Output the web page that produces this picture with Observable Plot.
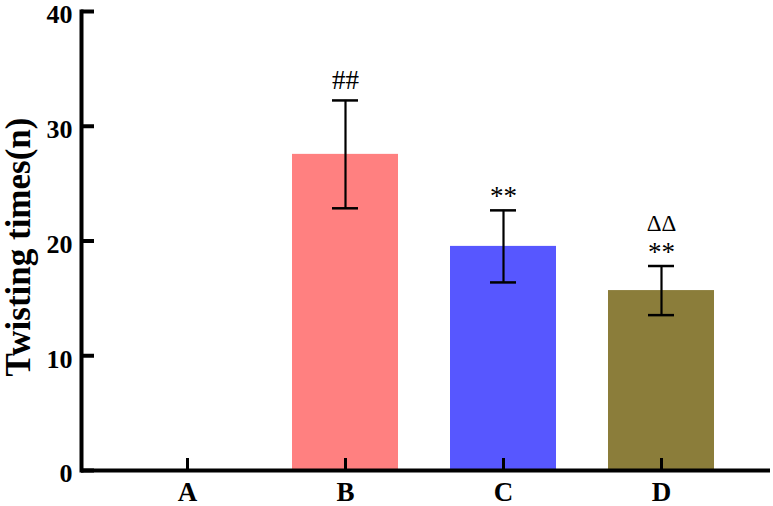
<!DOCTYPE html>
<html>
<head>
<meta charset="utf-8">
<script src="https://cdn.jsdelivr.net/npm/d3@7"></script>
<script src="https://cdn.jsdelivr.net/npm/@observablehq/plot@0.6"></script>
<style>
  html, body { margin: 0; padding: 0; background: #fff; }
  #chart svg { display: block; }
</style>
</head>
<body>
<div id="chart"></div>
<script>
// Writhing (twisting) counts per group: mean ± SD
const groups = ["A", "B", "C", "D"];
const means = [0, 27.55, 19.53, 15.68];
const sds = [null, 4.7, 3.14, 2.14];
const yTicks = [0, 10, 20, 30, 40];

// Significance marks drawn above each error bar
const sigModel = ["", "##", "", ""];
const sigDrug = ["", "", "**", "**"];
const sigDelta = ["", "", "", "ΔΔ"];

const barColors = ["#ffffff", "#ff8080", "#5757ff", "#8b7d3a"];

const rows = groups.map((g, i) => ({
  group: g, mean: means[i], sd: sds[i],
  model: sigModel[i], drug: sigDrug[i], delta: sigDelta[i]
}));
const withSd = rows.filter(d => d.sd != null);

const W = 773, H = 506;
const mL = 81, mR = 6, mT = 11, mB = 36;
const frameW = W - mL - mR, frameH = H - mT - mB;
const serif = '"Liberation Serif", "Times New Roman", Times, serif';

const chart = Plot.plot({
  width: W, height: H,
  marginLeft: mL, marginRight: mR, marginTop: mT, marginBottom: mB,
  style: { fontFamily: serif, background: "#fff", color: "#000" },
  x: { domain: groups, padding: 0.33, axis: null, label: null },
  y: { domain: [0, 40], axis: null, label: null },
  color: { domain: groups, range: barColors },
  marks: [
    Plot.barY(rows, { x: "group", y: "mean", fill: "group" }),
    // error bars
    Plot.ruleX(withSd, { x: "group", y1: d => d.mean - d.sd, y2: d => d.mean + d.sd, stroke: "#000", strokeWidth: 2.2 }),
    Plot.tickY(withSd, { x: "group", y: d => d.mean + d.sd, insetLeft: 40, insetRight: 40, stroke: "#000", strokeWidth: 2.5 }),
    Plot.tickY(withSd, { x: "group", y: d => d.mean - d.sd, insetLeft: 40, insetRight: 40, stroke: "#000", strokeWidth: 2.5 }),
    // significance labels
    Plot.text(withSd, { x: "group", y: d => d.mean + d.sd, text: "model", lineAnchor: "bottom", dy: -11, fontSize: 27 }),
    Plot.text(withSd, { x: "group", y: d => d.mean + d.sd, text: "drug", lineAnchor: "bottom", dy: -5, fontSize: 27 }),
    Plot.text(withSd, { x: "group", y: d => d.mean + d.sd, text: "delta", lineAnchor: "bottom", dy: -35, fontSize: 23 }),
    // axis lines
    Plot.frame({ anchor: "left", stroke: "#000", strokeWidth: 4, strokeLinecap: "square" }),
    Plot.ruleY([0], { stroke: "#000", strokeWidth: 4, insetRight: -3 }),
    // inward ticks
    Plot.tickY(yTicks, { y: d => d, insetRight: frameW - 13, stroke: "#000", strokeWidth: 4 }),
    Plot.tickX(groups, { x: d => d, insetTop: frameH - 12, stroke: "#000", strokeWidth: 3 }),
    // tick labels
    Plot.axisY({ ticks: yTicks, tickSize: 0, tickPadding: 9, dy: 3.5, fontSize: 26, fontWeight: "bold", label: null }),
    Plot.axisX({ tickSize: 0, tickPadding: 11, fontSize: 27, fontWeight: "bold", label: null }),
    // y title
    Plot.text(["Twisting times(n)"], { frameAnchor: "left", textAnchor: "middle", lineAnchor: "middle", rotate: -90, dx: -63, dy: 6, fontSize: 35, fontWeight: "bold" })
  ]
});

document.getElementById("chart").appendChild(chart);
</script>
</body>
</html>
